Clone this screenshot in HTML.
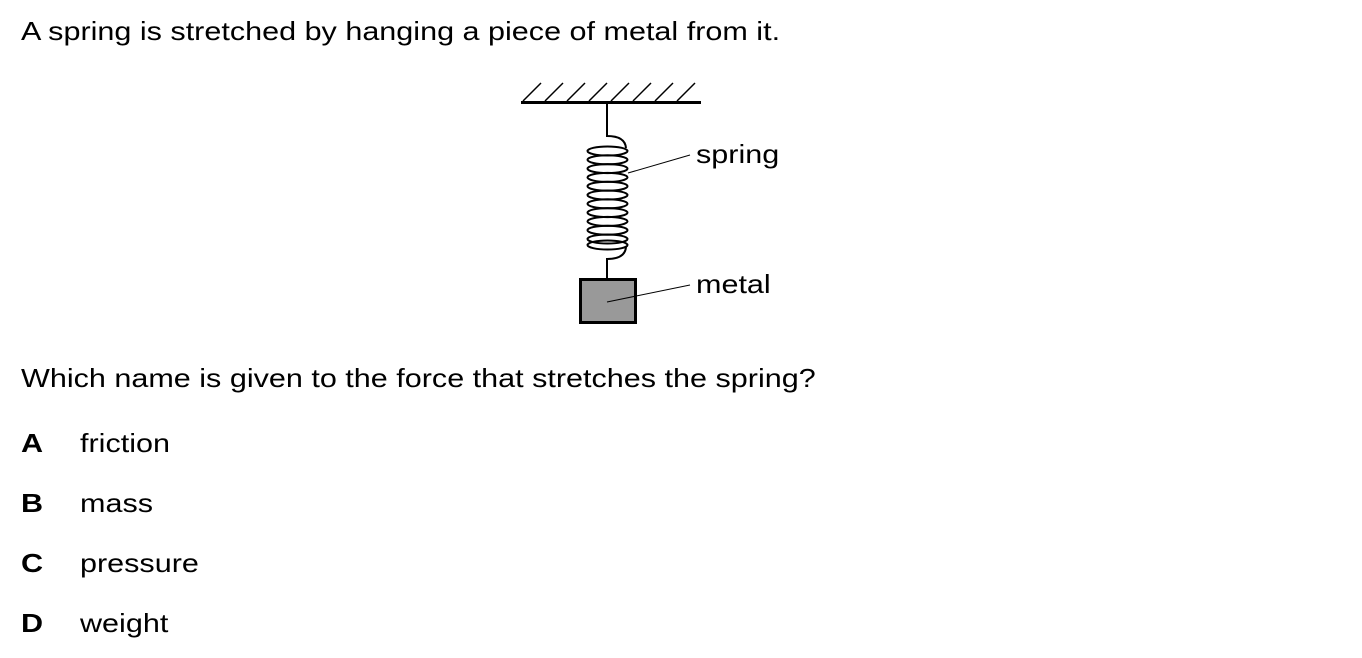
<!DOCTYPE html>
<html><head><style>
body{margin:0;width:1362px;height:658px;background:#fff;position:relative;font-family:"Liberation Sans",sans-serif;color:#000;overflow:hidden}
.t{position:absolute;font-size:26px;line-height:30px;white-space:nowrap;transform:scaleX(1.175);transform-origin:0 0}
.b{font-weight:bold}
</style></head><body>
<div class="t" style="left:21px;top:16px">A spring is stretched by hanging a piece of metal from it.</div>
<div class="t" style="left:21px;top:363px">Which name is given to the force that stretches the spring?</div>
<div class="t b" style="left:21px;top:428px">A</div><div class="t" style="left:80px;top:428px">friction</div>
<div class="t b" style="left:21px;top:488px">B</div><div class="t" style="left:80px;top:488px">mass</div>
<div class="t b" style="left:21px;top:548px">C</div><div class="t" style="left:80px;top:548px">pressure</div>
<div class="t b" style="left:21px;top:608px">D</div><div class="t" style="left:80px;top:608px">weight</div>
<svg style="position:absolute;left:0;top:0" width="1362" height="658">
<g stroke="#000" fill="none" stroke-width="1.6">
<line x1="521" y1="102.5" x2="701" y2="102.5" stroke-width="3"/>
<g stroke-width="1.5">
<line x1="523" y1="101" x2="541" y2="83"/><line x1="545" y1="101" x2="563" y2="83"/><line x1="567" y1="101" x2="585" y2="83"/><line x1="589" y1="101" x2="607" y2="83"/><line x1="611" y1="101" x2="629" y2="83"/><line x1="633" y1="101" x2="651" y2="83"/><line x1="655" y1="101" x2="673" y2="83"/><line x1="677" y1="101" x2="695" y2="83"/>
</g>
<path d="M607 103 V136 Q625 136 626 148" stroke-width="2"/>
<path d="M607 280 V259 Q625 259 626 247" stroke-width="2"/>
<g stroke-width="2">
<ellipse cx="607.5" cy="151" rx="20" ry="4.5"/><ellipse cx="607.5" cy="159.8" rx="20" ry="4.5"/><ellipse cx="607.5" cy="168.6" rx="20" ry="4.5"/><ellipse cx="607.5" cy="177.4" rx="20" ry="4.5"/><ellipse cx="607.5" cy="186.2" rx="20" ry="4.5"/><ellipse cx="607.5" cy="195" rx="20" ry="4.5"/><ellipse cx="607.5" cy="203.8" rx="20" ry="4.5"/><ellipse cx="607.5" cy="212.6" rx="20" ry="4.5"/><ellipse cx="607.5" cy="221.4" rx="20" ry="4.5"/><ellipse cx="607.5" cy="230.2" rx="20" ry="4.5"/><ellipse cx="607.5" cy="239" rx="20" ry="4.5"/><ellipse cx="607.5" cy="245" rx="20" ry="4.5"/>
</g>
<rect x="580.5" y="279.5" width="55" height="43" fill="#999" stroke-width="3"/>
<line x1="628" y1="173" x2="690" y2="155" stroke-width="1"/>
<line x1="607" y1="302" x2="690" y2="285" stroke-width="1"/>
</g>
</svg>
<div class="t" style="left:696px;top:139px">spring</div>
<div class="t" style="left:696px;top:269px">metal</div>
</body></html>
